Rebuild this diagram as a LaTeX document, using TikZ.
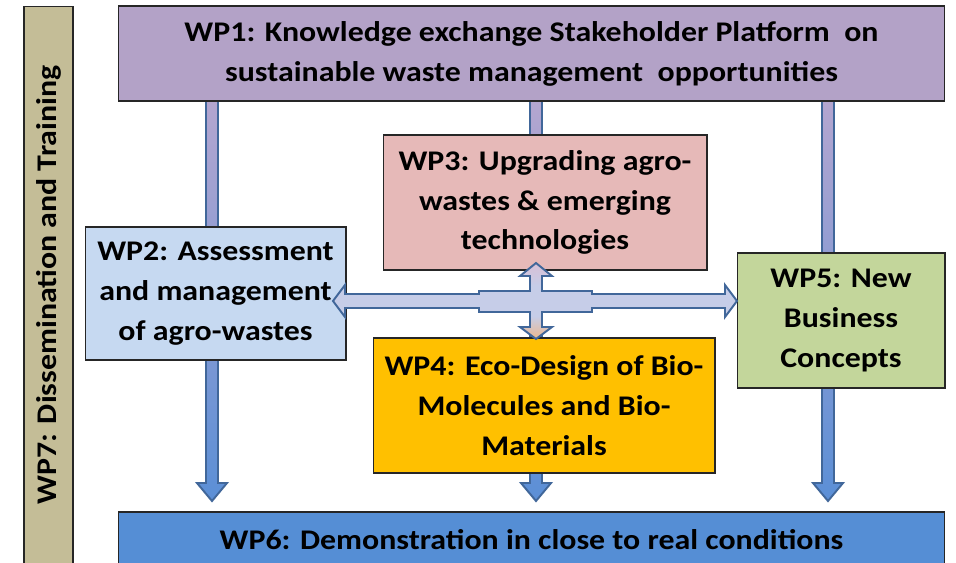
\documentclass[tikz,border=0pt]{standalone}
\usepackage{fontspec}
\setmainfont{Carlito}[FakeStretch=1.12]

\definecolor{wpone}{HTML}{B3A2C7}
\definecolor{wptwo}{HTML}{C6D9F1}
\definecolor{wpthree}{HTML}{E6B9B8}
\definecolor{wpfour}{HTML}{FFC000}
\definecolor{wpfive}{HTML}{C3D69B}
\definecolor{wpsix}{HTML}{558ED5}
\definecolor{wpseven}{HTML}{C4BD97}
\definecolor{arrowline}{HTML}{41679A}
\definecolor{arrowtop}{HTML}{B4A6D0}
\definecolor{arrowbot}{HTML}{5B8FD6}
\definecolor{crossblue}{HTML}{C6CDE8}
\definecolor{crosspink}{HTML}{D8C0D6}
\definecolor{crosspeach}{HTML}{EDB88E}

\pgfdeclareverticalshading{crossshade}{100bp}{%
  color(0bp)=(crosspeach); color(25bp)=(crosspeach);
  color(40bp)=(crossblue); color(60bp)=(crossblue);
  color(75bp)=(crosspink); color(100bp)=(crosspink)}

\tikzset{
  wpbox/.style={draw=black!85, line width=0.6pt, align=center, inner sep=0pt,
    font=\fontsize{16.2}{22.7}\selectfont\bfseries},
  downarrow/.style={draw=arrowline, line width=1.1pt, top color=arrowtop, bottom color=arrowbot},
  crossarrow/.style={draw=arrowline, line width=1.1pt, shading=crossshade}
}

\begin{document}
\begin{tikzpicture}[x=0.02cm, y=-0.02cm]
    \clip (0,0) rectangle (956,562);

    % Long arrows from WP1 down to WP6
    \foreach \ax in {212,536,828} {
        \shadedraw[downarrow] ({\ax-6},101) -- ({\ax+6},101) -- ({\ax+6},483) -- ({\ax+15},483)
            -- (\ax,501) -- ({\ax-15},483) -- ({\ax-6},483) -- cycle;
    }

    % Work packages
    \node[wpbox, fill=wpone, minimum width=16.54cm, minimum height=1.9cm] (wp1) at (531.5,53.5)
        {WP1: Knowledge exchange Stakeholder Platform\ \ on\\ sustainable waste management\ \ opportunities};
    \node[wpbox, fill=wptwo, minimum width=5.22cm, minimum height=2.66cm] (wp2) at (215.5,293.5)
        {WP2: Assessment\\ and management\\ of agro-wastes};
    \node[wpbox, fill=wpthree, minimum width=6.48cm, minimum height=2.7cm] (wp3) at (545,202.5)
        {WP3: Upgrading agro-\\ wastes \& emerging\\ technologies};
    \node[wpbox, fill=wpfour, minimum width=6.84cm, minimum height=2.7cm] (wp4) at (544,405.5)
        {WP4: Eco-Design of Bio-\\ Molecules and\ Bio-\\ Materials};
    \node[wpbox, fill=wpfive, minimum width=4.16cm, minimum height=2.7cm] (wp5) at (841,320.5)
        {WP5: New\\ Business\\ Concepts};
    \node[wpbox, fill=wpsix, minimum width=16.54cm, minimum height=1.12cm] (wp6) at (531.5,540)
        {WP6: Demonstration in close to real conditions};
    \node[wpbox, fill=wpseven, rotate=90, minimum width=11.16cm, minimum height=0.98cm] (wp7) at (48.5,285)
        {WP7: Dissemination and Training};

    % Cross arrow between WP2, WP3, WP4 and WP5
    \coordinate (hub) at (536,301);
    \begin{scope}[shift={(hub)}]
        \shadedraw[crossarrow] (-203,0) -- (-191,-16) -- (-191,-7) -- (-57,-7) -- (-57,-10)
            -- (-6,-10) -- (-6,-25) -- (-16,-25) -- (0,-38) -- (16,-25) -- (6,-25) -- (6,-10)
            -- (56,-10) -- (56,-7) -- (189,-7) -- (189,-16) -- (201,0) -- (189,16) -- (189,7)
            -- (56,7) -- (56,11) -- (6,11) -- (6,26) -- (16,26) -- (0,38) -- (-16,26) -- (-6,26)
            -- (-6,11) -- (-57,11) -- (-57,7) -- (-191,7) -- (-191,16) -- cycle;
    \end{scope}
\end{tikzpicture}
\end{document}
